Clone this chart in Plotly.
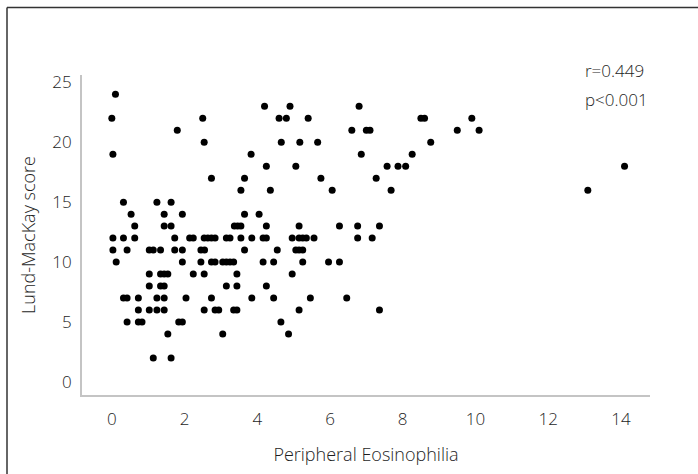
import plotly.graph_objects as go

# Lund-MacKay score rows (score value) and eosinophilia values in each row
score_24 = [0.1]
score_23 = [4.2, 4.9, 6.8]
score_22 = [0.0, 2.5, 4.6, 4.8, 5.4, 8.5, 8.6, 9.9]
score_21 = [1.8, 6.6, 7.0, 7.1, 9.5, 10.1]
score_20 = [2.54, 4.66, 5.17, 5.66, 8.77]
score_19 = [0.03, 3.83, 6.86, 8.26]
score_18 = [4.25, 5.06, 7.57, 7.87, 8.08, 14.1]
score_17 = [2.74, 3.65, 5.75, 7.27]
score_16 = [3.55, 4.36, 6.06, 7.68, 13.09]
score_15 = [0.32, 1.24, 1.63]
score_14 = [0.53, 1.44, 1.94, 3.65, 4.05]
score_13 = [0.63, 1.44, 1.63, 3.37, 3.46, 3.55, 4.25, 5.15, 6.26, 6.76, 7.36]
score_12 = [0.03, 0.32, 0.63, 1.73, 2.14, 2.24, 2.54, 2.64, 2.74, 2.84, 3.15, 3.25,
            3.55, 3.85, 4.16, 4.25, 4.96, 5.15, 5.25, 5.35, 5.56, 6.76, 7.16]
score_11 = [0.03, 0.42, 1.03, 1.14, 1.34, 1.73, 1.94, 2.45, 2.55, 3.65, 4.55, 5.06, 5.15, 5.25]
score_10 = [0.12, 1.94, 2.45, 2.74, 2.84, 3.05, 3.15, 3.25, 3.35, 4.16, 4.45, 5.25, 5.96, 6.26]
score_9 = [1.03, 1.34, 1.44, 1.54, 2.24, 2.54, 3.44, 4.96]
score_8 = [1.03, 1.34, 1.44, 3.15, 3.44, 4.25]
score_7 = [0.32, 0.42, 0.73, 1.24, 1.44, 2.04, 2.74, 3.85, 4.45, 5.46, 6.46]
score_6 = [0.73, 1.03, 1.24, 1.44, 2.54, 2.84, 2.94, 3.35, 3.44, 5.15, 7.36]
score_5 = [0.42, 0.73, 0.83, 1.84, 1.94, 4.65]
score_4 = [1.54, 3.05, 4.86]
score_2 = [1.14, 1.63]

rows = {24: score_24, 23: score_23, 22: score_22, 21: score_21, 20: score_20,
        19: score_19, 18: score_18, 17: score_17, 16: score_16, 15: score_15,
        14: score_14, 13: score_13, 12: score_12, 11: score_11, 10: score_10,
        9: score_9, 8: score_8, 7: score_7, 6: score_6, 5: score_5, 4: score_4,
        2: score_2}

x_ticks = [0, 2, 4, 6, 8, 10, 12, 14]
y_ticks = [0, 5, 10, 15, 20, 25]
stats_text = ["r=0.449", "p<0.001"]

xs, ys = [], []
for s, vals in rows.items():
    for v in vals:
        xs.append(v)
        ys.append(s)

W, H = 698, 474
L, R, T, B = 82, 48, 75, 77
pw, ph = W - L - R, H - T - B

def px(x):
    return (x - L) / pw

def py(y):
    return (H - B - y) / ph

font_family = "Open Sans"
txt_color = "#1e1e1e"
tfont = dict(size=17, family=font_family, color=txt_color, weight=300)
title_font = dict(size=18, family=font_family, color=txt_color, weight=300)

fig = go.Figure()
fig.add_trace(go.Scatter(
    x=xs, y=ys, mode="markers",
    marker=dict(size=7, color="black", line=dict(width=0)),
    showlegend=False, hoverinfo="skip"))

fig.update_layout(
    width=W, height=H,
    margin=dict(l=L, r=R, t=T, b=B),
    paper_bgcolor="white", plot_bgcolor="white",
    font=dict(family=font_family, size=16, color=txt_color, weight=300),
    xaxis=dict(range=[-0.82, 14.8], tickvals=x_ticks, showgrid=False, zeroline=False,
               showline=True, linecolor="#c4c4c4", linewidth=2, ticks="",
               ticklabelstandoff=8, tickfont=tfont,
               title=dict(text="Peripheral Eosinophilia", standoff=19, font=title_font)),
    yaxis=dict(range=[-1.08, 25.6], tickvals=y_ticks, showgrid=False, zeroline=False,
               showline=True, linecolor="#c4c4c4", linewidth=2, ticks="",
               ticklabelstandoff=5, tickfont=tfont,
               title=dict(text="Lund-MacKay score", standoff=12, font=title_font)),
)

fig.add_annotation(xref="paper", yref="paper", x=px(583), y=py(70), xanchor="left",
                   yanchor="middle", showarrow=False, align="left",
                   text=stats_text[0], font=tfont)
fig.add_annotation(xref="paper", yref="paper", x=px(583), y=py(100), xanchor="left",
                   yanchor="middle", showarrow=False, align="left",
                   text=stats_text[1], font=tfont)

# outer frame (left and top edges visible)
fig.add_shape(type="line", xref="paper", yref="paper", x0=px(7), x1=px(720), y0=py(7), y1=py(7),
              line=dict(color="#333333", width=1.5))
fig.add_shape(type="line", xref="paper", yref="paper", x0=px(7), x1=px(7), y0=py(7), y1=py(500),
              line=dict(color="#333333", width=1.5))

fig.write_html("out.html")
